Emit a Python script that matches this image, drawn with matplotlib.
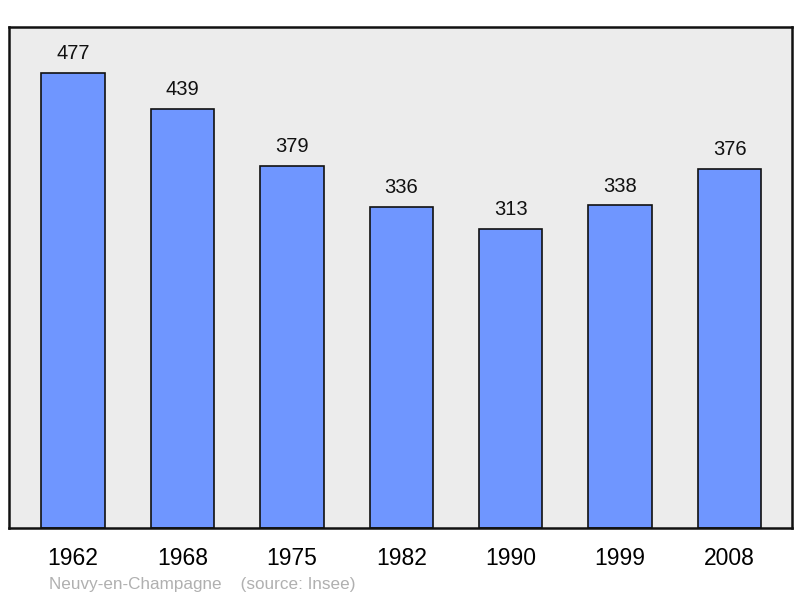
import matplotlib as mpl
mpl.use("Agg")
import matplotlib.pyplot as plt

# population data
years = ["1962", "1968", "1975", "1982", "1990", "1999", "2008"]
population = [477, 439, 379, 336, 313, 338, 376]

plt.rcParams["font.family"] = ["Liberation Sans", "DejaVu Sans"]

fig = plt.figure(figsize=(8, 5.98), dpi=100)
ax = fig.add_axes([9 / 800, 70 / 598, 783 / 800, 501 / 598])
ax.set_facecolor("#ececec")

x = range(len(years))
bars = ax.bar(x, population, width=0.58, color="#6f96ff",
              edgecolor="#111111", linewidth=1.2, zorder=2)

# value labels above bars
for xi, v in zip(x, population):
    ax.annotate(str(v), xy=(xi, v), xytext=(0, 14), textcoords="offset points",
                ha="center", va="center", fontsize=14.5, color="#111111")

ax.set_xlim(-0.585, 6.57)
ax.set_ylim(0, 525)
ax.set_xticks(list(x))
ax.set_xticklabels(years, fontsize=16.5)
ax.set_yticks([])
ax.tick_params(axis="x", length=0, pad=14)
for s in ax.spines.values():
    s.set_linewidth(1.8)
    s.set_color("#111111")

fig.text(49 / 800, 1 - 584 / 598, "Neuvy-en-Champagne    (source: Insee)",
         fontsize=12.3, color="#b0b0b0", ha="left", va="center")

plt.savefig("out.png", dpi=100)
plt.close()
